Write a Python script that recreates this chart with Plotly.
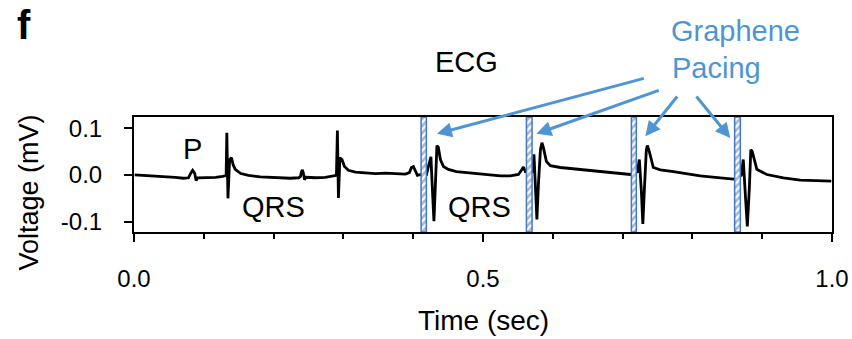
import plotly.graph_objects as go

# ECG trace (time in s, voltage in mV)
ecg_time = [0.001, 0.016, 0.031, 0.045, 0.059, 0.071, 0.078,
            0.081, 0.084, 0.087, 0.089, 0.091, 0.102, 0.117, 0.127,
            0.132, 0.133, 0.1346, 0.137, 0.1396, 0.142, 0.145, 0.153, 0.164, 0.181, 0.203, 0.224, 0.236,
            0.2385, 0.240, 0.2413, 0.2428, 0.2442, 0.2464, 0.260, 0.274, 0.2857,
            0.290, 0.2914, 0.2929, 0.295, 0.298, 0.3015, 0.3072, 0.3172, 0.3316, 0.3459, 0.3602, 0.3746, 0.3889,
            0.3946, 0.3975, 0.4003, 0.4032, 0.406, 0.411,
            0.419, 0.4225, 0.4254, 0.4275, 0.4297, 0.4318, 0.434, 0.436, 0.439, 0.4433, 0.4504, 0.4619, 0.482,
            0.5006, 0.525, 0.539, 0.5507, 0.555, 0.5579, 0.5607,
            0.5708, 0.573, 0.5751, 0.5772, 0.5794, 0.5823, 0.5844, 0.5865, 0.5908, 0.5965, 0.6108, 0.6323,
            0.6538, 0.6753, 0.6968, 0.7111,
            0.7212, 0.7240, 0.7269, 0.729, 0.7312, 0.734, 0.7355, 0.7383, 0.744, 0.7541, 0.7727, 0.7942,
            0.8113, 0.8328, 0.8586,
            0.8700, 0.8729, 0.8758, 0.8787, 0.8815, 0.8837, 0.8858, 0.8923, 0.9066, 0.9303, 0.9546, 0.9761, 0.999]
ecg_mv = [0.000, -0.001, -0.002, -0.004, -0.005, -0.007, -0.006,
          0.003, 0.010, 0.003, -0.012, -0.006, -0.006, -0.005, -0.003,
          -0.001, 0.090, -0.050, 0.033, 0.037, 0.022, 0.012, 0.003, -0.001, -0.004, -0.006, -0.007, -0.006,
          -0.003, 0.007, 0.011, 0.003, -0.010, -0.005, -0.006, -0.005, -0.003,
          -0.001, 0.095, -0.049, 0.037, 0.033, 0.018, 0.010, 0.006, 0.004, 0.003, 0.004, 0.003, 0.002,
          0.005, 0.016, 0.018, 0.010, -0.001, 0.001,
          0.001, 0.022, 0.039, -0.031, -0.099, -0.020, 0.063, 0.059, 0.033, 0.018, 0.012, 0.007, 0.004,
          0.001, -0.002, -0.002, 0.001, 0.010, 0.017, 0.007,
          0.007, 0.044, -0.020, -0.095, -0.020, 0.054, 0.069, 0.059, 0.029, 0.020, 0.016, 0.013,
          0.010, 0.006, 0.003, 0.001,
          0.007, 0.033, -0.035, -0.105, -0.031, 0.054, 0.063, 0.050, 0.016, 0.011, 0.007, 0.002,
          -0.002, -0.005, -0.009,
          -0.001, 0.033, -0.041, -0.110, -0.031, 0.054, 0.050, 0.012, 0.001, -0.006, -0.011, -0.012, -0.013]

# Graphene pacing pulses (start / end time, s)
pacing_start = [0.4113, 0.5622, 0.7126, 0.8605]
pacing_end = [0.4189, 0.5703, 0.7197, 0.8687]

x_range = [0.0, 1.0]
y_range = [-0.122, 0.124]
x_tickvals = [0.0, 0.5, 1.0]
x_ticktext = ["0.0", "0.5", "1.0"]
y_tickvals = [-0.1, 0.0, 0.1]
y_ticktext = ["-0.1", "0.0", "0.1"]

FONT = "Liberation Sans, Arial, sans-serif"
BLUE_TXT = "#4f95d4"
BLUE_BOX = "#4676c2"

fig = go.Figure()
fig.add_trace(go.Scatter(x=ecg_time, y=ecg_mv, mode="lines",
                         line=dict(color="black", width=2.8), showlegend=False,
                         hoverinfo="skip"))

for s, e in zip(pacing_start, pacing_end):
    fig.add_trace(go.Scatter(
        x=[s, e, e, s, s], y=[y_range[0], y_range[0], y_range[1], y_range[1], y_range[0]],
        mode="lines", fill="toself",
        fillcolor="white",
        fillpattern=dict(shape="/", fgcolor=BLUE_BOX, bgcolor="white", size=5, solidity=0.55),
        line=dict(color=BLUE_BOX, width=1.5), showlegend=False, hoverinfo="skip"))


def label(text, x, y, size, color="black", xref="paper", yref="paper", **kw):
    d = dict(text=text, x=x, y=y, xref=xref, yref=yref, showarrow=False,
             xanchor="center", yanchor="middle",
             font=dict(size=size, color=color, family=FONT))
    d.update(kw)
    return d


annotations = [
    label("<b>f</b>", 0, 1, 40, xshift=-110, yshift=116, yanchor="top"),
    label("Time (sec)", 0.5, 0, 28, yshift=-88),
    label("Voltage (mV)", 0, 0.5, 27, xshift=-106, yshift=-18, textangle=-90),
    label("ECG", 0.476, 1.478, 29),
    label("Graphene", 0.766, 1.748, 29, color=BLUE_TXT, xanchor="left"),
    label("Pacing", 0.768, 1.430, 29, color=BLUE_TXT, xanchor="left"),
    label("P", 0.084, 0.056, 29, xref="x", yref="y"),
    label("QRS", 0.2, -0.068, 29, xref="x", yref="y"),
    label("QRS", 0.495, -0.069, 29, xref="x", yref="y"),
]

arrows = [((0.434, 0.088), (0.7326, 0.2074)),
          ((0.5765, 0.088), (0.754, 0.182)),
          ((0.7326, 0.0826), (0.7799, 0.171)),
          ((0.8543, 0.079), (0.804, 0.171))]
for (hx, hy), (tx, ty) in arrows:
    annotations.append(dict(text="", x=hx, y=hy, ax=tx, ay=ty, axref="x", ayref="y",
                            showarrow=True, arrowhead=2, arrowsize=1, arrowwidth=3,
                            arrowcolor=BLUE_TXT, standoff=0, startstandoff=0))

fig.update_layout(
    width=852, height=339,
    margin=dict(l=134, r=20, t=117, b=107, autoexpand=False),
    paper_bgcolor="white", plot_bgcolor="white",
    font=dict(family=FONT, color="black"),
    annotations=annotations,
    xaxis=dict(range=x_range, tickvals=x_tickvals, ticktext=x_ticktext,
               showgrid=False, zeroline=False, showline=True, mirror=True,
               linecolor="black", linewidth=2, ticks="outside", ticklen=8, tickwidth=2,
               tickcolor="black", tickfont=dict(size=24, family=FONT), ticklabelstandoff=16,
               minor=dict(dtick=0.1, ticks="outside", ticklen=5, tickwidth=2, tickcolor="black"),
               fixedrange=True),
    yaxis=dict(range=y_range, tickvals=y_tickvals, ticktext=y_ticktext,
               showgrid=False, zeroline=False, showline=True, mirror=True,
               linecolor="black", linewidth=2, ticks="outside", ticklen=8, tickwidth=2,
               tickcolor="black", tickfont=dict(size=24, family=FONT), ticklabelstandoff=17,
               fixedrange=True),
)

fig.write_html("out.html")
